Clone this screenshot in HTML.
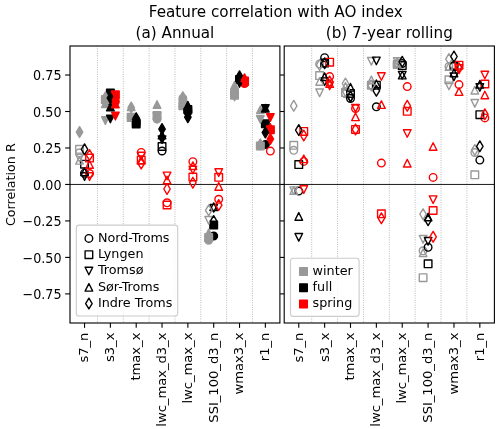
<!DOCTYPE html>
<html lang="en"><head><meta charset="utf-8"><title>Feature correlation with AO index</title>
<style>html,body{margin:0;padding:0;background:#fff}body{width:500px;height:429px;overflow:hidden}</style>
</head><body>
<svg width="500" height="429" viewBox="0 0 500 429" style="display:block;font-family:'DejaVu Sans','Liberation Sans',sans-serif">
<rect width="500" height="429" fill="#fff"/>
<g stroke="#aaaaaa" stroke-width="0.9" stroke-dasharray="0.9,1.43" fill="none"><line x1="97.46" x2="97.46" y1="46.0" y2="323.0"/><line x1="123.29" x2="123.29" y1="46.0" y2="323.0"/><line x1="149.12" x2="149.12" y1="46.0" y2="323.0"/><line x1="174.95" x2="174.95" y1="46.0" y2="323.0"/><line x1="200.78" x2="200.78" y1="46.0" y2="323.0"/><line x1="226.61" x2="226.61" y1="46.0" y2="323.0"/><line x1="252.44" x2="252.44" y1="46.0" y2="323.0"/></g>
<line x1="70.0" x2="279.9" y1="184.45" y2="184.45" stroke="#000" stroke-width="0.9"/>
<g><circle cx="79.53" cy="152.80" r="3.81" fill="none" stroke="#999999" stroke-width="1.39" stroke-linejoin="round"/><circle cx="105.36" cy="101.00" r="3.81" fill="#999999" stroke="#999999" stroke-width="1.39" stroke-linejoin="round"/><circle cx="131.19" cy="117.60" r="3.81" fill="#999999" stroke="#999999" stroke-width="1.39" stroke-linejoin="round"/><circle cx="157.02" cy="119.10" r="3.81" fill="#999999" stroke="#999999" stroke-width="1.39" stroke-linejoin="round"/><circle cx="182.85" cy="98.50" r="3.81" fill="#999999" stroke="#999999" stroke-width="1.39" stroke-linejoin="round"/><circle cx="208.68" cy="240.20" r="3.81" fill="#999999" stroke="#999999" stroke-width="1.39" stroke-linejoin="round"/><circle cx="234.52" cy="91.00" r="3.81" fill="#999999" stroke="#999999" stroke-width="1.39" stroke-linejoin="round"/><circle cx="260.35" cy="145.50" r="3.81" fill="#999999" stroke="#999999" stroke-width="1.39" stroke-linejoin="round"/><circle cx="84.54" cy="173.20" r="3.81" fill="none" stroke="#000000" stroke-width="1.39" stroke-linejoin="round"/><circle cx="110.37" cy="101.00" r="3.81" fill="#000000" stroke="#000000" stroke-width="1.39" stroke-linejoin="round"/><circle cx="136.20" cy="122.00" r="3.81" fill="#000000" stroke="#000000" stroke-width="1.39" stroke-linejoin="round"/><circle cx="162.03" cy="151.00" r="3.81" fill="none" stroke="#000000" stroke-width="1.39" stroke-linejoin="round"/><circle cx="187.87" cy="112.00" r="3.81" fill="#000000" stroke="#000000" stroke-width="1.39" stroke-linejoin="round"/><circle cx="213.70" cy="236.00" r="3.81" fill="#000000" stroke="#000000" stroke-width="1.39" stroke-linejoin="round"/><circle cx="239.53" cy="79.50" r="3.81" fill="#000000" stroke="#000000" stroke-width="1.39" stroke-linejoin="round"/><circle cx="265.36" cy="144.60" r="3.81" fill="#000000" stroke="#000000" stroke-width="1.39" stroke-linejoin="round"/><circle cx="89.55" cy="173.50" r="3.81" fill="none" stroke="#ff0000" stroke-width="1.39" stroke-linejoin="round"/><circle cx="115.38" cy="101.50" r="3.81" fill="#ff0000" stroke="#ff0000" stroke-width="1.39" stroke-linejoin="round"/><circle cx="141.22" cy="152.40" r="3.81" fill="none" stroke="#ff0000" stroke-width="1.39" stroke-linejoin="round"/><circle cx="167.05" cy="202.80" r="3.81" fill="none" stroke="#ff0000" stroke-width="1.39" stroke-linejoin="round"/><circle cx="192.88" cy="161.70" r="3.81" fill="none" stroke="#ff0000" stroke-width="1.39" stroke-linejoin="round"/><circle cx="218.71" cy="199.30" r="3.81" fill="none" stroke="#ff0000" stroke-width="1.39" stroke-linejoin="round"/><circle cx="244.54" cy="83.60" r="3.81" fill="#ff0000" stroke="#ff0000" stroke-width="1.39" stroke-linejoin="round"/><circle cx="270.37" cy="151.10" r="3.81" fill="none" stroke="#ff0000" stroke-width="1.39" stroke-linejoin="round"/><rect x="75.73" y="145.50" width="7.61" height="7.61" fill="none" stroke="#999999" stroke-width="1.39" stroke-linejoin="round"/><rect x="101.56" y="95.79" width="7.61" height="7.61" fill="#999999" stroke="#999999" stroke-width="1.39" stroke-linejoin="round"/><rect x="127.39" y="113.79" width="7.61" height="7.61" fill="#999999" stroke="#999999" stroke-width="1.39" stroke-linejoin="round"/><rect x="153.22" y="111.59" width="7.61" height="7.61" fill="#999999" stroke="#999999" stroke-width="1.39" stroke-linejoin="round"/><rect x="179.05" y="101.89" width="7.61" height="7.61" fill="#999999" stroke="#999999" stroke-width="1.39" stroke-linejoin="round"/><rect x="204.88" y="233.69" width="7.61" height="7.61" fill="#999999" stroke="#999999" stroke-width="1.39" stroke-linejoin="round"/><rect x="230.71" y="91.39" width="7.61" height="7.61" fill="#999999" stroke="#999999" stroke-width="1.39" stroke-linejoin="round"/><rect x="256.54" y="142.19" width="7.61" height="7.61" fill="#999999" stroke="#999999" stroke-width="1.39" stroke-linejoin="round"/><rect x="80.74" y="160.39" width="7.61" height="7.61" fill="none" stroke="#000000" stroke-width="1.39" stroke-linejoin="round"/><rect x="106.57" y="89.19" width="7.61" height="7.61" fill="#000000" stroke="#000000" stroke-width="1.39" stroke-linejoin="round"/><rect x="132.40" y="120.09" width="7.61" height="7.61" fill="#000000" stroke="#000000" stroke-width="1.39" stroke-linejoin="round"/><rect x="158.23" y="142.69" width="7.61" height="7.61" fill="none" stroke="#000000" stroke-width="1.39" stroke-linejoin="round"/><rect x="184.06" y="105.69" width="7.61" height="7.61" fill="#000000" stroke="#000000" stroke-width="1.39" stroke-linejoin="round"/><rect x="209.89" y="221.19" width="7.61" height="7.61" fill="#000000" stroke="#000000" stroke-width="1.39" stroke-linejoin="round"/><rect x="235.72" y="75.69" width="7.61" height="7.61" fill="#000000" stroke="#000000" stroke-width="1.39" stroke-linejoin="round"/><rect x="261.55" y="119.99" width="7.61" height="7.61" fill="#000000" stroke="#000000" stroke-width="1.39" stroke-linejoin="round"/><rect x="85.75" y="154.29" width="7.61" height="7.61" fill="none" stroke="#ff0000" stroke-width="1.39" stroke-linejoin="round"/><rect x="111.58" y="90.99" width="7.61" height="7.61" fill="#ff0000" stroke="#ff0000" stroke-width="1.39" stroke-linejoin="round"/><rect x="137.41" y="156.29" width="7.61" height="7.61" fill="none" stroke="#ff0000" stroke-width="1.39" stroke-linejoin="round"/><rect x="163.24" y="201.19" width="7.61" height="7.61" fill="none" stroke="#ff0000" stroke-width="1.39" stroke-linejoin="round"/><rect x="189.07" y="173.19" width="7.61" height="7.61" fill="none" stroke="#ff0000" stroke-width="1.39" stroke-linejoin="round"/><rect x="214.90" y="173.50" width="7.61" height="7.61" fill="none" stroke="#ff0000" stroke-width="1.39" stroke-linejoin="round"/><rect x="240.73" y="77.69" width="7.61" height="7.61" fill="#ff0000" stroke="#ff0000" stroke-width="1.39" stroke-linejoin="round"/><rect x="266.56" y="126.00" width="7.61" height="7.61" fill="#ff0000" stroke="#ff0000" stroke-width="1.39" stroke-linejoin="round"/><polygon points="79.53,162.00 75.73,154.39 83.34,154.39" fill="none" stroke="#999999" stroke-width="1.39" stroke-linejoin="round"/><polygon points="105.36,124.41 101.56,116.79 109.17,116.79" fill="#999999" stroke="#999999" stroke-width="1.39" stroke-linejoin="round"/><polygon points="131.19,121.11 127.39,113.49 135.00,113.49" fill="#999999" stroke="#999999" stroke-width="1.39" stroke-linejoin="round"/><polygon points="157.02,120.31 153.22,112.69 160.83,112.69" fill="#999999" stroke="#999999" stroke-width="1.39" stroke-linejoin="round"/><polygon points="182.85,107.81 179.05,100.19 186.66,100.19" fill="#999999" stroke="#999999" stroke-width="1.39" stroke-linejoin="round"/><polygon points="208.68,224.11 204.88,216.50 212.49,216.50" fill="none" stroke="#999999" stroke-width="1.39" stroke-linejoin="round"/><polygon points="234.52,100.81 230.71,93.19 238.32,93.19" fill="#999999" stroke="#999999" stroke-width="1.39" stroke-linejoin="round"/><polygon points="260.35,123.31 256.54,115.69 264.15,115.69" fill="#999999" stroke="#999999" stroke-width="1.39" stroke-linejoin="round"/><polygon points="84.54,180.41 80.74,172.79 88.35,172.79" fill="none" stroke="#000000" stroke-width="1.39" stroke-linejoin="round"/><polygon points="110.37,122.81 106.57,115.19 114.18,115.19" fill="#000000" stroke="#000000" stroke-width="1.39" stroke-linejoin="round"/><polygon points="136.20,126.81 132.40,119.19 140.01,119.19" fill="#000000" stroke="#000000" stroke-width="1.39" stroke-linejoin="round"/><polygon points="162.03,143.50 158.23,135.89 165.84,135.89" fill="#000000" stroke="#000000" stroke-width="1.39" stroke-linejoin="round"/><polygon points="187.87,117.81 184.06,110.19 191.67,110.19" fill="#000000" stroke="#000000" stroke-width="1.39" stroke-linejoin="round"/><polygon points="213.70,212.11 209.89,204.50 217.50,204.50" fill="none" stroke="#000000" stroke-width="1.39" stroke-linejoin="round"/><polygon points="239.53,87.31 235.72,79.69 243.33,79.69" fill="#000000" stroke="#000000" stroke-width="1.39" stroke-linejoin="round"/><polygon points="265.36,112.41 261.55,104.79 269.16,104.79" fill="#000000" stroke="#000000" stroke-width="1.39" stroke-linejoin="round"/><polygon points="89.55,180.41 85.75,172.79 93.36,172.79" fill="none" stroke="#ff0000" stroke-width="1.39" stroke-linejoin="round"/><polygon points="115.38,119.91 111.58,112.29 119.19,112.29" fill="#ff0000" stroke="#ff0000" stroke-width="1.39" stroke-linejoin="round"/><polygon points="141.22,159.91 137.41,152.29 145.02,152.29" fill="none" stroke="#ff0000" stroke-width="1.39" stroke-linejoin="round"/><polygon points="167.05,179.71 163.24,172.09 170.85,172.09" fill="none" stroke="#ff0000" stroke-width="1.39" stroke-linejoin="round"/><polygon points="192.88,173.81 189.07,166.19 196.68,166.19" fill="none" stroke="#ff0000" stroke-width="1.39" stroke-linejoin="round"/><polygon points="218.71,176.41 214.90,168.79 222.51,168.79" fill="none" stroke="#ff0000" stroke-width="1.39" stroke-linejoin="round"/><polygon points="244.54,84.81 240.73,77.19 248.34,77.19" fill="#ff0000" stroke="#ff0000" stroke-width="1.39" stroke-linejoin="round"/><polygon points="270.37,121.41 266.56,113.79 274.17,113.79" fill="#ff0000" stroke="#ff0000" stroke-width="1.39" stroke-linejoin="round"/><polygon points="79.53,156.50 75.73,164.11 83.34,164.11" fill="none" stroke="#999999" stroke-width="1.39" stroke-linejoin="round"/><polygon points="105.36,99.89 101.56,107.51 109.17,107.51" fill="#999999" stroke="#999999" stroke-width="1.39" stroke-linejoin="round"/><polygon points="131.19,102.99 127.39,110.61 135.00,110.61" fill="#999999" stroke="#999999" stroke-width="1.39" stroke-linejoin="round"/><polygon points="157.02,100.69 153.22,108.31 160.83,108.31" fill="#999999" stroke="#999999" stroke-width="1.39" stroke-linejoin="round"/><polygon points="182.85,99.19 179.05,106.81 186.66,106.81" fill="#999999" stroke="#999999" stroke-width="1.39" stroke-linejoin="round"/><polygon points="208.68,229.00 204.88,236.61 212.49,236.61" fill="#999999" stroke="#999999" stroke-width="1.39" stroke-linejoin="round"/><polygon points="234.52,81.49 230.71,89.11 238.32,89.11" fill="#999999" stroke="#999999" stroke-width="1.39" stroke-linejoin="round"/><polygon points="260.35,105.99 256.54,113.61 264.15,113.61" fill="#999999" stroke="#999999" stroke-width="1.39" stroke-linejoin="round"/><polygon points="84.54,168.00 80.74,175.61 88.35,175.61" fill="none" stroke="#000000" stroke-width="1.39" stroke-linejoin="round"/><polygon points="110.37,103.29 106.57,110.91 114.18,110.91" fill="#000000" stroke="#000000" stroke-width="1.39" stroke-linejoin="round"/><polygon points="136.20,117.19 132.40,124.81 140.01,124.81" fill="#000000" stroke="#000000" stroke-width="1.39" stroke-linejoin="round"/><polygon points="162.03,131.19 158.23,138.81 165.84,138.81" fill="#000000" stroke="#000000" stroke-width="1.39" stroke-linejoin="round"/><polygon points="187.87,101.39 184.06,109.01 191.67,109.01" fill="#000000" stroke="#000000" stroke-width="1.39" stroke-linejoin="round"/><polygon points="213.70,202.89 209.89,210.50 217.50,210.50" fill="none" stroke="#000000" stroke-width="1.39" stroke-linejoin="round"/><polygon points="239.53,73.69 235.72,81.31 243.33,81.31" fill="#000000" stroke="#000000" stroke-width="1.39" stroke-linejoin="round"/><polygon points="265.36,104.39 261.55,112.01 269.16,112.01" fill="#000000" stroke="#000000" stroke-width="1.39" stroke-linejoin="round"/><polygon points="89.55,160.69 85.75,168.31 93.36,168.31" fill="none" stroke="#ff0000" stroke-width="1.39" stroke-linejoin="round"/><polygon points="115.38,100.09 111.58,107.71 119.19,107.71" fill="#ff0000" stroke="#ff0000" stroke-width="1.39" stroke-linejoin="round"/><polygon points="141.22,156.19 137.41,163.81 145.02,163.81" fill="none" stroke="#ff0000" stroke-width="1.39" stroke-linejoin="round"/><polygon points="167.05,176.19 163.24,183.81 170.85,183.81" fill="none" stroke="#ff0000" stroke-width="1.39" stroke-linejoin="round"/><polygon points="192.88,161.89 189.07,169.50 196.68,169.50" fill="none" stroke="#ff0000" stroke-width="1.39" stroke-linejoin="round"/><polygon points="218.71,182.59 214.90,190.21 222.51,190.21" fill="none" stroke="#ff0000" stroke-width="1.39" stroke-linejoin="round"/><polygon points="244.54,73.89 240.73,81.51 248.34,81.51" fill="#ff0000" stroke="#ff0000" stroke-width="1.39" stroke-linejoin="round"/><polygon points="270.37,123.69 266.56,131.31 274.17,131.31" fill="#ff0000" stroke="#ff0000" stroke-width="1.39" stroke-linejoin="round"/><polygon points="79.53,126.72 82.76,132.10 79.53,137.48 76.30,132.10" fill="#999999" stroke="#999999" stroke-width="1.39" stroke-linejoin="round"/><polygon points="105.36,92.02 108.59,97.40 105.36,102.78 102.13,97.40" fill="#999999" stroke="#999999" stroke-width="1.39" stroke-linejoin="round"/><polygon points="131.19,102.12 134.42,107.50 131.19,112.88 127.96,107.50" fill="#999999" stroke="#999999" stroke-width="1.39" stroke-linejoin="round"/><polygon points="157.02,112.02 160.25,117.40 157.02,122.78 153.79,117.40" fill="#999999" stroke="#999999" stroke-width="1.39" stroke-linejoin="round"/><polygon points="182.85,91.82 186.08,97.20 182.85,102.58 179.63,97.20" fill="#999999" stroke="#999999" stroke-width="1.39" stroke-linejoin="round"/><polygon points="208.68,204.92 211.91,210.30 208.68,215.68 205.46,210.30" fill="none" stroke="#999999" stroke-width="1.39" stroke-linejoin="round"/><polygon points="234.52,86.62 237.74,92.00 234.52,97.38 231.29,92.00" fill="#999999" stroke="#999999" stroke-width="1.39" stroke-linejoin="round"/><polygon points="260.35,139.02 263.57,144.40 260.35,149.78 257.12,144.40" fill="#999999" stroke="#999999" stroke-width="1.39" stroke-linejoin="round"/><polygon points="84.54,143.92 87.77,149.30 84.54,154.68 81.31,149.30" fill="none" stroke="#000000" stroke-width="1.39" stroke-linejoin="round"/><polygon points="110.37,92.62 113.60,98.00 110.37,103.38 107.14,98.00" fill="#000000" stroke="#000000" stroke-width="1.39" stroke-linejoin="round"/><polygon points="136.20,112.82 139.43,118.20 136.20,123.58 132.98,118.20" fill="#000000" stroke="#000000" stroke-width="1.39" stroke-linejoin="round"/><polygon points="162.03,123.72 165.26,129.10 162.03,134.48 158.81,129.10" fill="#000000" stroke="#000000" stroke-width="1.39" stroke-linejoin="round"/><polygon points="187.87,111.82 191.09,117.20 187.87,122.58 184.64,117.20" fill="#000000" stroke="#000000" stroke-width="1.39" stroke-linejoin="round"/><polygon points="213.70,215.72 216.92,221.10 213.70,226.48 210.47,221.10" fill="none" stroke="#000000" stroke-width="1.39" stroke-linejoin="round"/><polygon points="239.53,70.92 242.76,76.30 239.53,81.68 236.30,76.30" fill="#000000" stroke="#000000" stroke-width="1.39" stroke-linejoin="round"/><polygon points="265.36,127.12 268.59,132.50 265.36,137.88 262.13,132.50" fill="#000000" stroke="#000000" stroke-width="1.39" stroke-linejoin="round"/><polygon points="89.55,149.72 92.78,155.10 89.55,160.48 86.33,155.10" fill="none" stroke="#ff0000" stroke-width="1.39" stroke-linejoin="round"/><polygon points="115.38,94.62 118.61,100.00 115.38,105.38 112.16,100.00" fill="#ff0000" stroke="#ff0000" stroke-width="1.39" stroke-linejoin="round"/><polygon points="141.22,158.22 144.44,163.60 141.22,168.98 137.99,163.60" fill="none" stroke="#ff0000" stroke-width="1.39" stroke-linejoin="round"/><polygon points="167.05,183.62 170.27,189.00 167.05,194.38 163.82,189.00" fill="none" stroke="#ff0000" stroke-width="1.39" stroke-linejoin="round"/><polygon points="192.88,177.32 196.11,182.70 192.88,188.08 189.65,182.70" fill="none" stroke="#ff0000" stroke-width="1.39" stroke-linejoin="round"/><polygon points="218.71,199.72 221.94,205.10 218.71,210.48 215.48,205.10" fill="none" stroke="#ff0000" stroke-width="1.39" stroke-linejoin="round"/><polygon points="244.54,74.62 247.77,80.00 244.54,85.38 241.31,80.00" fill="#ff0000" stroke="#ff0000" stroke-width="1.39" stroke-linejoin="round"/><polygon points="270.37,133.62 273.60,139.00 270.37,144.38 267.14,139.00" fill="#ff0000" stroke="#ff0000" stroke-width="1.39" stroke-linejoin="round"/></g>
<g stroke="#000" stroke-width="1.11"><line x1="65.14" x2="70.0" y1="293.88" y2="293.88"/><line x1="65.14" x2="70.0" y1="257.40" y2="257.40"/><line x1="65.14" x2="70.0" y1="220.92" y2="220.92"/><line x1="65.14" x2="70.0" y1="184.45" y2="184.45"/><line x1="65.14" x2="70.0" y1="147.97" y2="147.97"/><line x1="65.14" x2="70.0" y1="111.50" y2="111.50"/><line x1="65.14" x2="70.0" y1="75.02" y2="75.02"/><line x1="84.54" x2="84.54" y1="323.0" y2="327.86"/><line x1="110.37" x2="110.37" y1="323.0" y2="327.86"/><line x1="136.20" x2="136.20" y1="323.0" y2="327.86"/><line x1="162.03" x2="162.03" y1="323.0" y2="327.86"/><line x1="187.87" x2="187.87" y1="323.0" y2="327.86"/><line x1="213.70" x2="213.70" y1="323.0" y2="327.86"/><line x1="239.53" x2="239.53" y1="323.0" y2="327.86"/><line x1="265.36" x2="265.36" y1="323.0" y2="327.86"/></g>
<text transform="translate(88.44,332.60) rotate(-90)" text-anchor="end" font-size="13.1">s7_n</text>
<text transform="translate(114.27,332.60) rotate(-90)" text-anchor="end" font-size="13.1">s3_x</text>
<text transform="translate(140.10,332.60) rotate(-90)" text-anchor="end" font-size="13.1">tmax_x</text>
<text transform="translate(165.93,332.60) rotate(-90)" text-anchor="end" font-size="13.1">lwc_max_d3_x</text>
<text transform="translate(191.77,332.60) rotate(-90)" text-anchor="end" font-size="13.1">lwc_max_x</text>
<text transform="translate(217.60,332.60) rotate(-90)" text-anchor="end" font-size="13.1">SSI_100_d3_n</text>
<text transform="translate(243.43,332.60) rotate(-90)" text-anchor="end" font-size="13.1">wmax3_x</text>
<text transform="translate(269.26,332.60) rotate(-90)" text-anchor="end" font-size="13.1">r1_n</text>
<g stroke="#aaaaaa" stroke-width="0.9" stroke-dasharray="0.9,1.43" fill="none"><line x1="311.70" x2="311.70" y1="46.0" y2="323.0"/><line x1="337.56" x2="337.56" y1="46.0" y2="323.0"/><line x1="363.43" x2="363.43" y1="46.0" y2="323.0"/><line x1="389.30" x2="389.30" y1="46.0" y2="323.0"/><line x1="415.17" x2="415.17" y1="46.0" y2="323.0"/><line x1="441.04" x2="441.04" y1="46.0" y2="323.0"/><line x1="466.90" x2="466.90" y1="46.0" y2="323.0"/></g>
<line x1="284.2" x2="494.4" y1="184.45" y2="184.45" stroke="#000" stroke-width="0.9"/>
<g><circle cx="293.75" cy="150.30" r="3.81" fill="none" stroke="#999999" stroke-width="1.39" stroke-linejoin="round"/><circle cx="319.61" cy="64.00" r="3.81" fill="none" stroke="#999999" stroke-width="1.39" stroke-linejoin="round"/><circle cx="345.48" cy="93.80" r="3.81" fill="none" stroke="#999999" stroke-width="1.39" stroke-linejoin="round"/><circle cx="371.35" cy="85.00" r="3.81" fill="none" stroke="#999999" stroke-width="1.39" stroke-linejoin="round"/><circle cx="397.22" cy="64.00" r="3.81" fill="none" stroke="#999999" stroke-width="1.39" stroke-linejoin="round"/><circle cx="423.08" cy="250.80" r="3.81" fill="none" stroke="#999999" stroke-width="1.39" stroke-linejoin="round"/><circle cx="448.95" cy="66.50" r="3.81" fill="none" stroke="#999999" stroke-width="1.39" stroke-linejoin="round"/><circle cx="474.82" cy="152.50" r="3.81" fill="none" stroke="#999999" stroke-width="1.39" stroke-linejoin="round"/><circle cx="298.76" cy="191.10" r="3.81" fill="none" stroke="#000000" stroke-width="1.39" stroke-linejoin="round"/><circle cx="324.63" cy="57.70" r="3.81" fill="none" stroke="#000000" stroke-width="1.39" stroke-linejoin="round"/><circle cx="350.50" cy="98.50" r="3.81" fill="none" stroke="#000000" stroke-width="1.39" stroke-linejoin="round"/><circle cx="376.37" cy="106.80" r="3.81" fill="none" stroke="#000000" stroke-width="1.39" stroke-linejoin="round"/><circle cx="402.23" cy="63.50" r="3.81" fill="none" stroke="#000000" stroke-width="1.39" stroke-linejoin="round"/><circle cx="428.10" cy="247.30" r="3.81" fill="none" stroke="#000000" stroke-width="1.39" stroke-linejoin="round"/><circle cx="453.97" cy="65.50" r="3.81" fill="none" stroke="#000000" stroke-width="1.39" stroke-linejoin="round"/><circle cx="479.84" cy="160.10" r="3.81" fill="none" stroke="#000000" stroke-width="1.39" stroke-linejoin="round"/><circle cx="303.78" cy="161.40" r="3.81" fill="none" stroke="#ff0000" stroke-width="1.39" stroke-linejoin="round"/><circle cx="329.65" cy="76.60" r="3.81" fill="none" stroke="#ff0000" stroke-width="1.39" stroke-linejoin="round"/><circle cx="355.52" cy="108.50" r="3.81" fill="none" stroke="#ff0000" stroke-width="1.39" stroke-linejoin="round"/><circle cx="381.38" cy="163.10" r="3.81" fill="none" stroke="#ff0000" stroke-width="1.39" stroke-linejoin="round"/><circle cx="407.25" cy="86.60" r="3.81" fill="none" stroke="#ff0000" stroke-width="1.39" stroke-linejoin="round"/><circle cx="433.12" cy="177.40" r="3.81" fill="none" stroke="#ff0000" stroke-width="1.39" stroke-linejoin="round"/><circle cx="458.99" cy="84.60" r="3.81" fill="none" stroke="#ff0000" stroke-width="1.39" stroke-linejoin="round"/><circle cx="484.85" cy="117.90" r="3.81" fill="none" stroke="#ff0000" stroke-width="1.39" stroke-linejoin="round"/><rect x="289.94" y="141.50" width="7.61" height="7.61" fill="none" stroke="#999999" stroke-width="1.39" stroke-linejoin="round"/><rect x="315.81" y="71.79" width="7.61" height="7.61" fill="none" stroke="#999999" stroke-width="1.39" stroke-linejoin="round"/><rect x="341.68" y="88.79" width="7.61" height="7.61" fill="none" stroke="#999999" stroke-width="1.39" stroke-linejoin="round"/><rect x="367.54" y="81.39" width="7.61" height="7.61" fill="none" stroke="#999999" stroke-width="1.39" stroke-linejoin="round"/><rect x="393.41" y="60.70" width="7.61" height="7.61" fill="none" stroke="#999999" stroke-width="1.39" stroke-linejoin="round"/><rect x="419.28" y="273.89" width="7.61" height="7.61" fill="none" stroke="#999999" stroke-width="1.39" stroke-linejoin="round"/><rect x="445.15" y="75.99" width="7.61" height="7.61" fill="none" stroke="#999999" stroke-width="1.39" stroke-linejoin="round"/><rect x="471.01" y="171.00" width="7.61" height="7.61" fill="none" stroke="#999999" stroke-width="1.39" stroke-linejoin="round"/><rect x="294.96" y="160.79" width="7.61" height="7.61" fill="none" stroke="#000000" stroke-width="1.39" stroke-linejoin="round"/><rect x="320.83" y="59.20" width="7.61" height="7.61" fill="none" stroke="#000000" stroke-width="1.39" stroke-linejoin="round"/><rect x="346.69" y="89.69" width="7.61" height="7.61" fill="none" stroke="#000000" stroke-width="1.39" stroke-linejoin="round"/><rect x="372.56" y="81.39" width="7.61" height="7.61" fill="none" stroke="#000000" stroke-width="1.39" stroke-linejoin="round"/><rect x="398.43" y="61.79" width="7.61" height="7.61" fill="none" stroke="#000000" stroke-width="1.39" stroke-linejoin="round"/><rect x="424.30" y="260.00" width="7.61" height="7.61" fill="none" stroke="#000000" stroke-width="1.39" stroke-linejoin="round"/><rect x="450.16" y="62.70" width="7.61" height="7.61" fill="none" stroke="#000000" stroke-width="1.39" stroke-linejoin="round"/><rect x="476.03" y="110.89" width="7.61" height="7.61" fill="none" stroke="#000000" stroke-width="1.39" stroke-linejoin="round"/><rect x="299.98" y="127.59" width="7.61" height="7.61" fill="none" stroke="#ff0000" stroke-width="1.39" stroke-linejoin="round"/><rect x="325.84" y="58.40" width="7.61" height="7.61" fill="none" stroke="#ff0000" stroke-width="1.39" stroke-linejoin="round"/><rect x="351.71" y="125.59" width="7.61" height="7.61" fill="none" stroke="#ff0000" stroke-width="1.39" stroke-linejoin="round"/><rect x="377.58" y="210.00" width="7.61" height="7.61" fill="none" stroke="#ff0000" stroke-width="1.39" stroke-linejoin="round"/><rect x="403.45" y="107.49" width="7.61" height="7.61" fill="none" stroke="#ff0000" stroke-width="1.39" stroke-linejoin="round"/><rect x="429.31" y="206.69" width="7.61" height="7.61" fill="none" stroke="#ff0000" stroke-width="1.39" stroke-linejoin="round"/><rect x="455.18" y="61.40" width="7.61" height="7.61" fill="none" stroke="#ff0000" stroke-width="1.39" stroke-linejoin="round"/><rect x="481.05" y="80.19" width="7.61" height="7.61" fill="none" stroke="#ff0000" stroke-width="1.39" stroke-linejoin="round"/><polygon points="293.75,194.50 289.94,186.89 297.55,186.89" fill="none" stroke="#999999" stroke-width="1.39" stroke-linejoin="round"/><polygon points="319.61,96.61 315.81,88.99 323.42,88.99" fill="none" stroke="#999999" stroke-width="1.39" stroke-linejoin="round"/><polygon points="345.48,96.81 341.68,89.19 349.29,89.19" fill="none" stroke="#999999" stroke-width="1.39" stroke-linejoin="round"/><polygon points="371.35,65.11 367.54,57.49 375.15,57.49" fill="none" stroke="#999999" stroke-width="1.39" stroke-linejoin="round"/><polygon points="397.22,65.31 393.41,57.70 401.02,57.70" fill="none" stroke="#999999" stroke-width="1.39" stroke-linejoin="round"/><polygon points="423.08,243.11 419.28,235.50 426.89,235.50" fill="none" stroke="#999999" stroke-width="1.39" stroke-linejoin="round"/><polygon points="448.95,89.71 445.15,82.09 452.76,82.09" fill="none" stroke="#999999" stroke-width="1.39" stroke-linejoin="round"/><polygon points="474.82,107.11 471.01,99.49 478.62,99.49" fill="none" stroke="#999999" stroke-width="1.39" stroke-linejoin="round"/><polygon points="298.76,241.11 294.96,233.50 302.57,233.50" fill="none" stroke="#000000" stroke-width="1.39" stroke-linejoin="round"/><polygon points="324.63,85.51 320.83,77.89 328.44,77.89" fill="none" stroke="#000000" stroke-width="1.39" stroke-linejoin="round"/><polygon points="350.50,102.01 346.69,94.39 354.30,94.39" fill="none" stroke="#000000" stroke-width="1.39" stroke-linejoin="round"/><polygon points="376.37,64.70 372.56,57.09 380.17,57.09" fill="none" stroke="#000000" stroke-width="1.39" stroke-linejoin="round"/><polygon points="402.23,79.01 398.43,71.39 406.04,71.39" fill="none" stroke="#000000" stroke-width="1.39" stroke-linejoin="round"/><polygon points="428.10,245.11 424.30,237.50 431.91,237.50" fill="none" stroke="#000000" stroke-width="1.39" stroke-linejoin="round"/><polygon points="453.97,80.61 450.16,72.99 457.77,72.99" fill="none" stroke="#000000" stroke-width="1.39" stroke-linejoin="round"/><polygon points="479.84,91.21 476.03,83.59 483.64,83.59" fill="none" stroke="#000000" stroke-width="1.39" stroke-linejoin="round"/><polygon points="303.78,193.41 299.98,185.79 307.59,185.79" fill="none" stroke="#ff0000" stroke-width="1.39" stroke-linejoin="round"/><polygon points="329.65,89.61 325.84,81.99 333.45,81.99" fill="none" stroke="#ff0000" stroke-width="1.39" stroke-linejoin="round"/><polygon points="355.52,112.11 351.71,104.49 359.32,104.49" fill="none" stroke="#ff0000" stroke-width="1.39" stroke-linejoin="round"/><polygon points="381.38,80.31 377.58,72.69 385.19,72.69" fill="none" stroke="#ff0000" stroke-width="1.39" stroke-linejoin="round"/><polygon points="407.25,137.31 403.45,129.69 411.06,129.69" fill="none" stroke="#ff0000" stroke-width="1.39" stroke-linejoin="round"/><polygon points="433.12,203.50 429.31,195.89 436.92,195.89" fill="none" stroke="#ff0000" stroke-width="1.39" stroke-linejoin="round"/><polygon points="458.99,72.31 455.18,64.69 462.79,64.69" fill="none" stroke="#ff0000" stroke-width="1.39" stroke-linejoin="round"/><polygon points="484.85,78.81 481.05,71.19 488.66,71.19" fill="none" stroke="#ff0000" stroke-width="1.39" stroke-linejoin="round"/><polygon points="293.75,186.69 289.94,194.31 297.55,194.31" fill="none" stroke="#999999" stroke-width="1.39" stroke-linejoin="round"/><polygon points="319.61,77.59 315.81,85.21 323.42,85.21" fill="none" stroke="#999999" stroke-width="1.39" stroke-linejoin="round"/><polygon points="345.48,82.59 341.68,90.21 349.29,90.21" fill="none" stroke="#999999" stroke-width="1.39" stroke-linejoin="round"/><polygon points="371.35,76.09 367.54,83.71 375.15,83.71" fill="none" stroke="#999999" stroke-width="1.39" stroke-linejoin="round"/><polygon points="397.22,59.20 393.41,66.81 401.02,66.81" fill="none" stroke="#999999" stroke-width="1.39" stroke-linejoin="round"/><polygon points="423.08,248.89 419.28,256.50 426.89,256.50" fill="none" stroke="#999999" stroke-width="1.39" stroke-linejoin="round"/><polygon points="448.95,62.70 445.15,70.31 452.76,70.31" fill="none" stroke="#999999" stroke-width="1.39" stroke-linejoin="round"/><polygon points="474.82,86.39 471.01,94.01 478.62,94.01" fill="none" stroke="#999999" stroke-width="1.39" stroke-linejoin="round"/><polygon points="298.76,212.59 294.96,220.21 302.57,220.21" fill="none" stroke="#000000" stroke-width="1.39" stroke-linejoin="round"/><polygon points="324.63,72.89 320.83,80.51 328.44,80.51" fill="none" stroke="#000000" stroke-width="1.39" stroke-linejoin="round"/><polygon points="350.50,83.49 346.69,91.11 354.30,91.11" fill="none" stroke="#000000" stroke-width="1.39" stroke-linejoin="round"/><polygon points="376.37,79.99 372.56,87.61 380.17,87.61" fill="none" stroke="#000000" stroke-width="1.39" stroke-linejoin="round"/><polygon points="402.23,71.29 398.43,78.91 406.04,78.91" fill="none" stroke="#000000" stroke-width="1.39" stroke-linejoin="round"/><polygon points="428.10,213.19 424.30,220.81 431.91,220.81" fill="none" stroke="#000000" stroke-width="1.39" stroke-linejoin="round"/><polygon points="453.97,69.19 450.16,76.81 457.77,76.81" fill="none" stroke="#000000" stroke-width="1.39" stroke-linejoin="round"/><polygon points="479.84,80.49 476.03,88.11 483.64,88.11" fill="none" stroke="#000000" stroke-width="1.39" stroke-linejoin="round"/><polygon points="303.78,155.00 299.98,162.61 307.59,162.61" fill="none" stroke="#ff0000" stroke-width="1.39" stroke-linejoin="round"/><polygon points="329.65,79.79 325.84,87.41 333.45,87.41" fill="none" stroke="#ff0000" stroke-width="1.39" stroke-linejoin="round"/><polygon points="355.52,112.99 351.71,120.61 359.32,120.61" fill="none" stroke="#ff0000" stroke-width="1.39" stroke-linejoin="round"/><polygon points="381.38,100.79 377.58,108.41 385.19,108.41" fill="none" stroke="#ff0000" stroke-width="1.39" stroke-linejoin="round"/><polygon points="407.25,159.39 403.45,167.00 411.06,167.00" fill="none" stroke="#ff0000" stroke-width="1.39" stroke-linejoin="round"/><polygon points="433.12,142.69 429.31,150.31 436.92,150.31" fill="none" stroke="#ff0000" stroke-width="1.39" stroke-linejoin="round"/><polygon points="458.99,87.79 455.18,95.41 462.79,95.41" fill="none" stroke="#ff0000" stroke-width="1.39" stroke-linejoin="round"/><polygon points="484.85,91.19 481.05,98.81 488.66,98.81" fill="none" stroke="#ff0000" stroke-width="1.39" stroke-linejoin="round"/><polygon points="293.75,100.42 296.97,105.80 293.75,111.18 290.52,105.80" fill="none" stroke="#999999" stroke-width="1.39" stroke-linejoin="round"/><polygon points="319.61,59.52 322.84,64.90 319.61,70.28 316.38,64.90" fill="none" stroke="#999999" stroke-width="1.39" stroke-linejoin="round"/><polygon points="345.48,78.12 348.71,83.50 345.48,88.88 342.25,83.50" fill="none" stroke="#999999" stroke-width="1.39" stroke-linejoin="round"/><polygon points="371.35,80.12 374.58,85.50 371.35,90.88 368.12,85.50" fill="none" stroke="#999999" stroke-width="1.39" stroke-linejoin="round"/><polygon points="397.22,57.62 400.44,63.00 397.22,68.38 393.99,63.00" fill="none" stroke="#999999" stroke-width="1.39" stroke-linejoin="round"/><polygon points="423.08,208.82 426.31,214.20 423.08,219.58 419.85,214.20" fill="none" stroke="#999999" stroke-width="1.39" stroke-linejoin="round"/><polygon points="448.95,53.72 452.18,59.10 448.95,64.48 445.72,59.10" fill="none" stroke="#999999" stroke-width="1.39" stroke-linejoin="round"/><polygon points="474.82,144.52 478.05,149.90 474.82,155.28 471.59,149.90" fill="none" stroke="#999999" stroke-width="1.39" stroke-linejoin="round"/><polygon points="298.76,124.72 301.99,130.10 298.76,135.48 295.53,130.10" fill="none" stroke="#000000" stroke-width="1.39" stroke-linejoin="round"/><polygon points="324.63,57.92 327.86,63.30 324.63,68.68 321.40,63.30" fill="none" stroke="#000000" stroke-width="1.39" stroke-linejoin="round"/><polygon points="350.50,91.12 353.73,96.50 350.50,101.88 347.27,96.50" fill="none" stroke="#000000" stroke-width="1.39" stroke-linejoin="round"/><polygon points="376.37,85.42 379.59,90.80 376.37,96.18 373.14,90.80" fill="none" stroke="#000000" stroke-width="1.39" stroke-linejoin="round"/><polygon points="402.23,56.42 405.46,61.80 402.23,67.18 399.01,61.80" fill="none" stroke="#000000" stroke-width="1.39" stroke-linejoin="round"/><polygon points="428.10,214.82 431.33,220.20 428.10,225.58 424.87,220.20" fill="none" stroke="#000000" stroke-width="1.39" stroke-linejoin="round"/><polygon points="453.97,51.12 457.20,56.50 453.97,61.88 450.74,56.50" fill="none" stroke="#000000" stroke-width="1.39" stroke-linejoin="round"/><polygon points="479.84,140.92 483.07,146.30 479.84,151.68 476.61,146.30" fill="none" stroke="#000000" stroke-width="1.39" stroke-linejoin="round"/><polygon points="303.78,130.12 307.01,135.50 303.78,140.88 300.55,135.50" fill="none" stroke="#ff0000" stroke-width="1.39" stroke-linejoin="round"/><polygon points="329.65,76.22 332.88,81.60 329.65,86.98 326.42,81.60" fill="none" stroke="#ff0000" stroke-width="1.39" stroke-linejoin="round"/><polygon points="355.52,124.02 358.75,129.40 355.52,134.78 352.29,129.40" fill="none" stroke="#ff0000" stroke-width="1.39" stroke-linejoin="round"/><polygon points="381.38,212.92 384.61,218.30 381.38,223.68 378.16,218.30" fill="none" stroke="#ff0000" stroke-width="1.39" stroke-linejoin="round"/><polygon points="407.25,100.42 410.48,105.80 407.25,111.18 404.02,105.80" fill="none" stroke="#ff0000" stroke-width="1.39" stroke-linejoin="round"/><polygon points="433.12,231.42 436.35,236.80 433.12,242.18 429.89,236.80" fill="none" stroke="#ff0000" stroke-width="1.39" stroke-linejoin="round"/><polygon points="458.99,62.92 462.22,68.30 458.99,73.68 455.76,68.30" fill="none" stroke="#ff0000" stroke-width="1.39" stroke-linejoin="round"/><polygon points="484.85,108.92 488.08,114.30 484.85,119.68 481.63,114.30" fill="none" stroke="#ff0000" stroke-width="1.39" stroke-linejoin="round"/></g>
<g stroke="#000" stroke-width="1.11"><line x1="280.10" x2="284.2" y1="293.88" y2="293.88"/><line x1="280.10" x2="284.2" y1="257.40" y2="257.40"/><line x1="280.10" x2="284.2" y1="220.92" y2="220.92"/><line x1="280.10" x2="284.2" y1="184.45" y2="184.45"/><line x1="280.10" x2="284.2" y1="147.97" y2="147.97"/><line x1="280.10" x2="284.2" y1="111.50" y2="111.50"/><line x1="280.10" x2="284.2" y1="75.02" y2="75.02"/><line x1="298.76" x2="298.76" y1="323.0" y2="327.86"/><line x1="324.63" x2="324.63" y1="323.0" y2="327.86"/><line x1="350.50" x2="350.50" y1="323.0" y2="327.86"/><line x1="376.37" x2="376.37" y1="323.0" y2="327.86"/><line x1="402.23" x2="402.23" y1="323.0" y2="327.86"/><line x1="428.10" x2="428.10" y1="323.0" y2="327.86"/><line x1="453.97" x2="453.97" y1="323.0" y2="327.86"/><line x1="479.84" x2="479.84" y1="323.0" y2="327.86"/></g>
<text transform="translate(302.66,332.60) rotate(-90)" text-anchor="end" font-size="13.1">s7_n</text>
<text transform="translate(328.53,332.60) rotate(-90)" text-anchor="end" font-size="13.1">s3_x</text>
<text transform="translate(354.40,332.60) rotate(-90)" text-anchor="end" font-size="13.1">tmax_x</text>
<text transform="translate(380.27,332.60) rotate(-90)" text-anchor="end" font-size="13.1">lwc_max_d3_x</text>
<text transform="translate(406.13,332.60) rotate(-90)" text-anchor="end" font-size="13.1">lwc_max_x</text>
<text transform="translate(432.00,332.60) rotate(-90)" text-anchor="end" font-size="13.1">SSI_100_d3_n</text>
<text transform="translate(457.87,332.60) rotate(-90)" text-anchor="end" font-size="13.1">wmax3_x</text>
<text transform="translate(483.74,332.60) rotate(-90)" text-anchor="end" font-size="13.1">r1_n</text>
<rect x="76.3" y="225.1" width="101.4" height="90.9" rx="2.8" fill="#fff" fill-opacity="0.8" stroke="#ccc" stroke-width="1.11"/>
<circle cx="88.90" cy="238.40" r="3.81" fill="none" stroke="#000" stroke-width="1.39" stroke-linejoin="round"/>
<text x="97.9" y="241.80" font-size="12.75">Nord-Troms</text>
<rect x="85.09" y="250.90" width="7.61" height="7.61" fill="none" stroke="#000" stroke-width="1.39" stroke-linejoin="round"/>
<text x="97.9" y="258.10" font-size="12.75">Lyngen</text>
<polygon points="88.90,274.81 85.09,267.19 92.71,267.19" fill="none" stroke="#000" stroke-width="1.39" stroke-linejoin="round"/>
<text x="97.9" y="274.40" font-size="12.75">Tromsø</text>
<polygon points="88.90,283.50 85.09,291.11 92.71,291.11" fill="none" stroke="#000" stroke-width="1.39" stroke-linejoin="round"/>
<text x="97.9" y="290.70" font-size="12.75">Sør-Troms</text>
<polygon points="88.90,298.22 92.13,303.60 88.90,308.98 85.67,303.60" fill="none" stroke="#000" stroke-width="1.39" stroke-linejoin="round"/>
<text x="97.9" y="307.00" font-size="12.75">Indre Troms</text>
<rect x="290.5" y="258.2" width="68.6" height="58.2" rx="2.8" fill="#fff" fill-opacity="0.8" stroke="#ccc" stroke-width="1.11"/>
<rect x="299.69" y="267.59" width="7.61" height="7.61" fill="#999999" stroke="#999999" stroke-width="1.39" stroke-linejoin="round"/>
<text x="312.6" y="274.80" font-size="12.75">winter</text>
<rect x="299.69" y="283.89" width="7.61" height="7.61" fill="#000000" stroke="#000000" stroke-width="1.39" stroke-linejoin="round"/>
<text x="312.6" y="291.10" font-size="12.75">full</text>
<rect x="299.69" y="300.19" width="7.61" height="7.61" fill="#ff0000" stroke="#ff0000" stroke-width="1.39" stroke-linejoin="round"/>
<text x="312.6" y="307.40" font-size="12.75">spring</text>
<rect x="70.0" y="46.0" width="209.90" height="277.00" fill="none" stroke="#000" stroke-width="1.11"/>
<rect x="284.2" y="46.0" width="210.20" height="277.00" fill="none" stroke="#000" stroke-width="1.11"/>
<text transform="translate(61.50,299.12) scale(1,1.1)" text-anchor="end" font-size="12.75">−0.75</text>
<text transform="translate(61.50,262.65) scale(1,1.1)" text-anchor="end" font-size="12.75">−0.50</text>
<text transform="translate(61.50,226.17) scale(1,1.1)" text-anchor="end" font-size="12.75">−0.25</text>
<text transform="translate(61.50,189.70) scale(1,1.1)" text-anchor="end" font-size="12.75">0.00</text>
<text transform="translate(61.50,153.22) scale(1,1.1)" text-anchor="end" font-size="12.75">0.25</text>
<text transform="translate(61.50,116.75) scale(1,1.1)" text-anchor="end" font-size="12.75">0.50</text>
<text transform="translate(61.50,80.27) scale(1,1.1)" text-anchor="end" font-size="12.75">0.75</text>
<text transform="translate(15.1,184.7) rotate(-90)" text-anchor="middle" font-size="12.7">Correlation R</text>
<text x="275.8" y="16.8" text-anchor="middle" font-size="15.2">Feature correlation with AO index</text>
<text x="174.95" y="37.7" text-anchor="middle" font-size="15.2">(a) Annual</text>
<text x="389.30" y="37.7" text-anchor="middle" font-size="15.2">(b) 7-year rolling</text>
</svg>
</body></html>
